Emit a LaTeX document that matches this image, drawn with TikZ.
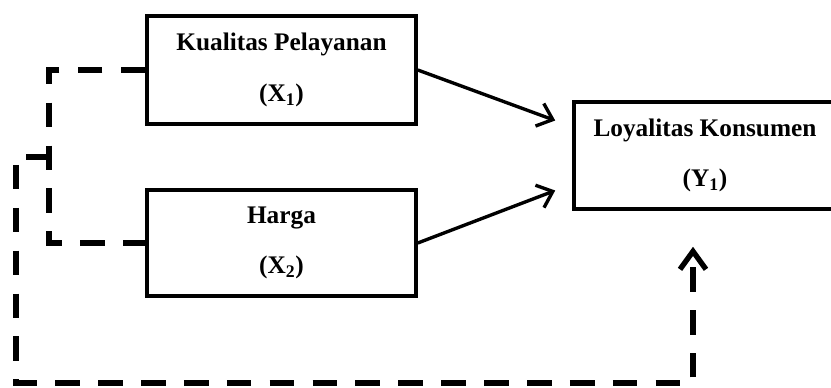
\documentclass[tikz,border=0pt]{standalone}
\usepackage{fontspec}
\setmainfont{Liberation Serif}
\usetikzlibrary{arrows.meta, calc}

\begin{document}
\begin{tikzpicture}[
    x=0.025cm, y=-0.025cm,
    varbox/.style={rectangle, draw, line width=2.5pt, align=center, inner sep=0pt, minimum width=6.725cm, minimum height=2.7cm, font=\fontsize{18}{36}\selectfont\bfseries},
    arrow/.style={line width=2.4pt, -{Straight Barb[length=0.35cm, width=0.6cm, line width=2.4pt]}},
    dashline/.style={line width=4.2pt, dash pattern=on 17.5pt off 13pt},
    dasharrow/.style={dashline, -{Straight Barb[length=0.45cm, width=0.65cm, line width=3.8pt]}}
]
\useasboundingbox (0,0) rectangle (831,388);

% variabel bebas (kiri)
\node (kualitas) [varbox] at (281.5,70) {Kualitas Pelayanan\\(X\textsubscript{1})};
\node (harga) [varbox, minimum height=2.65cm] at (281.5,243) {Harga\\(X\textsubscript{2})};

% variabel terikat (kanan)
\node (loyal) [varbox, minimum width=6.55cm, minimum height=2.675cm] at (705,155.5) {Loyalitas Konsumen\\(Y\textsubscript{1})};

% titik bantu
\coordinate (tipA) at ($(loyal.west)+(-17,-35)$);
\coordinate (tipB) at ($(loyal.west)+(-17,35)$);
\coordinate (branch) at (51,157);
\coordinate (target) at ($(loyal.south)+(-12,36)$);

% pengaruh parsial
\draw [arrow] (kualitas.east) -- (tipA);
\draw [arrow] (harga.east) -- (tipB);

% pengaruh simultan (garis putus-putus)
\draw [dashline] (kualitas.west) -- ++(-96,0) |- (harga.west);
\draw [dasharrow] (branch) -- (16,157) -- (16,383) -| (target);

\end{tikzpicture}
\end{document}
